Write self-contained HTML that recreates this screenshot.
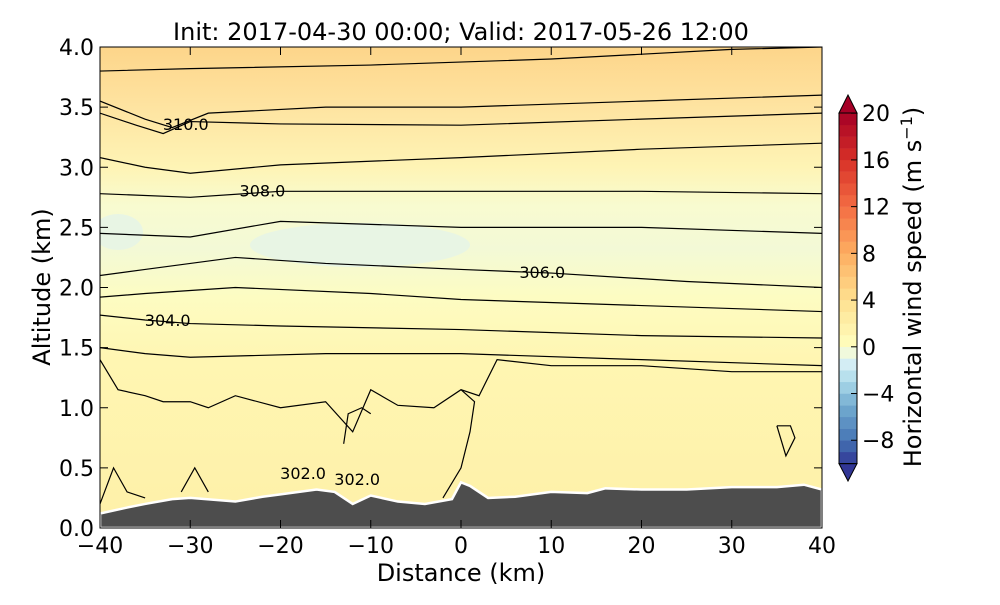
<!DOCTYPE html>
<html><head><meta charset="utf-8"><style>
body{margin:0;background:#fff;font-family:"Liberation Sans","DejaVu Sans",sans-serif}
svg text{font-family:"DejaVu Sans","Liberation Sans",sans-serif}
</style></head><body>
<svg id="chart" width="1000" height="600" viewBox="0 0 1000 600" xmlns="http://www.w3.org/2000/svg">
<defs>
<linearGradient id="bg" x1="0" y1="0" x2="0" y2="1">
<stop offset="0" stop-color="#fdd58a"/>
<stop offset="0.12" stop-color="#fee3a0"/>
<stop offset="0.25" stop-color="#fef4b5"/>
<stop offset="0.33" stop-color="#f8fbd0"/>
<stop offset="0.42" stop-color="#f3f9d6"/>
<stop offset="0.52" stop-color="#fdfcc2"/>
<stop offset="0.65" stop-color="#fff6b2"/>
<stop offset="1" stop-color="#fef0a8"/>
</linearGradient>
<clipPath id="plotclip"><rect x="100" y="47" width="722" height="481"/></clipPath>
</defs>
<text x="461" y="40" font-size="24" text-anchor="middle">Init: 2017-04-30 00:00; Valid: 2017-05-26 12:00</text>
<g id="plot" clip-path="url(#plotclip)">
<rect x="100" y="47" width="722" height="481" fill="url(#bg)"/>
<ellipse cx="360" cy="245" rx="110" ry="22" fill="#e8f5e4"/>
<ellipse cx="118" cy="232" rx="25" ry="18" fill="#e8f5e4"/>
<g id="contours"></g>
<g id="terrain"></g>
</g>
<rect x="100" y="47" width="722" height="481" fill="none" stroke="#000" stroke-width="1"/>
<g id="axes"></g>
<text x="461" y="581" font-size="24" text-anchor="middle">Distance (km)</text>
<text transform="translate(50,287) rotate(-90)" font-size="24" text-anchor="middle">Altitude (km)</text>
<g id="colorbar"></g>
<text transform="translate(921,287) rotate(-90)" font-size="24" text-anchor="middle">Horizontal wind speed (m s<tspan dy="-9" font-size="16">−1</tspan><tspan dy="9">)</tspan></text>
</svg>
<script>
const xTicks=[-40,-30,-20,-10,0,10,20,30,40];
const yTicks=[0,0.5,1.0,1.5,2.0,2.5,3.0,3.5,4.0];
const cbTicks=[-8,-4,0,4,8,12,16,20];
const cbLevels=[-10,-9,-8,-7,-6,-5,-4,-3,-2,-1,0,1,2,3,4,5,6,7,8,9,10,11,12,13,14,15,16,17,18,19];
const terrain=[[-40,0.12],[-37,0.17],[-35,0.2],[-32,0.24],[-30,0.25],[-25,0.22],[-22,0.26],[-20,0.28],[-16,0.32],[-14,0.3],[-12,0.2],[-10,0.27],[-7,0.22],[-4,0.2],[-1,0.24],[0,0.38],[1,0.35],[3,0.25],[6,0.26],[10,0.3],[14,0.29],[16,0.33],[20,0.32],[25,0.32],[30,0.34],[35,0.34],[38,0.36],[40,0.32]];
const contourLines=[
[[-40,3.8],[-30,3.82],[-10,3.85],[10,3.9],[30,3.98],[40,4.0]],
[[-40,3.55],[-35,3.4],[-32,3.33],[-28,3.45],[-15,3.5],[0,3.5],[20,3.55],[40,3.6]],
[[-40,3.45],[-36,3.35],[-33,3.28],[-30,3.38],[-20,3.36],[0,3.35],[20,3.4],[40,3.45]],
[[-40,3.08],[-35,3.0],[-30,2.95],[-20,3.02],[0,3.08],[20,3.15],[40,3.2]],
[[-40,2.78],[-30,2.75],[-20,2.8],[0,2.8],[20,2.8],[40,2.78]],
[[-40,2.45],[-30,2.42],[-20,2.55],[0,2.5],[20,2.5],[40,2.45]],
[[-40,2.1],[-35,2.15],[-25,2.25],[-15,2.2],[0,2.15],[10,2.12],[25,2.05],[40,2.0]],
[[-40,1.92],[-35,1.95],[-25,2.0],[-10,1.95],[0,1.9],[20,1.85],[40,1.8]],
[[-40,1.77],[-35,1.73],[-30,1.7],[-20,1.68],[0,1.65],[20,1.6],[40,1.58]],
[[-40,1.5],[-35,1.45],[-30,1.42],[-15,1.45],[0,1.45],[20,1.4],[40,1.35]],
[[-40,1.4],[-38,1.15],[-35,1.1],[-33,1.05],[-30,1.05],[-28,1.0],[-25,1.1],[-20,1.0],[-15,1.05],[-12,0.8],[-10,1.15],[-7,1.02],[-3,1.0],[0,1.15],[2,1.1],[4,1.4],[10,1.35],[20,1.35],[30,1.3],[40,1.3]],
[[-40,0.2],[-38.5,0.5],[-37,0.3],[-35,0.25]],
[[-31,0.3],[-29.5,0.5],[-28,0.3]],
[[-13,0.7],[-12.5,0.95],[-11,1.0],[-10,0.95]],
[[-2,0.25],[0,0.5],[1,0.8],[1.5,1.05],[0,1.15]],
[[35,0.85],[36,0.6],[37,0.75],[36.5,0.85],[35,0.85]]
];
const contourLabels=[["310.0",-30.5,3.35],["308.0",-22,2.8],["306.0",9,2.12],["304.0",-32.5,1.72],["302.0",-17.5,0.45],["302.0",-11.5,0.4]];
const X=d=>100+(d+40)*9.025, Y=a=>528-a*120.25;
const NS="http://www.w3.org/2000/svg";
function mk(t,attrs,parent){const e=document.createElementNS(NS,t);for(const k in attrs)e.setAttribute(k,attrs[k]);parent.appendChild(e);return e;}
const cg=document.getElementById('contours');
contourLines.forEach((ln,i)=>{
const p=mk('polyline',{points:ln.map(q=>X(q[0])+','+Y(q[1])).join(' '),fill:'none',stroke:'#000','stroke-width':1.2},cg);


});
contourLabels.forEach(l=>{
const t=mk('text',{x:X(l[1]),y:Y(l[2])+5,'font-size':16,'text-anchor':'middle'},cg);
t.textContent=l[0];


});
const tg=document.getElementById('terrain');
const tp=terrain.map(q=>X(q[0])+','+Y(q[1])).join(' ');
const tpoly=mk('polygon',{points:X(-40)+','+Y(0)+' '+tp+' '+X(40)+','+Y(0),fill:'#4d4d4d',stroke:'#fff','stroke-width':2.5},tg);


const ag=document.getElementById('axes');
xTicks.forEach(v=>{
mk('line',{x1:X(v),x2:X(v),y1:528,y2:520,stroke:'#000'},ag);
mk('line',{x1:X(v),x2:X(v),y1:47,y2:55,stroke:'#000'},ag);
const t=mk('text',{x:X(v),y:553,'font-size':22,'text-anchor':'middle'},ag);
t.textContent=(v<0?'−'+(-v):v);


});
yTicks.forEach(v=>{
mk('line',{x1:100,x2:108,y1:Y(v),y2:Y(v),stroke:'#000'},ag);
mk('line',{x1:822,x2:814,y1:Y(v),y2:Y(v),stroke:'#000'},ag);
const t=mk('text',{x:94,y:Y(v)+8,'font-size':22,'text-anchor':'end'},ag);
t.textContent=v.toFixed(1);


});
const stops=[[-10,[49,54,149]],[-8,[69,117,180]],[-5,[116,173,209]],[-3,[171,217,233]],[-1,[224,243,248]],[0,[255,255,191]],[4,[254,224,144]],[8,[253,174,97]],[12,[244,109,67]],[16,[215,48,39]],[20,[165,0,38]]];
function col(v){for(let i=0;i<stops.length-1;i++){const a=stops[i],b=stops[i+1];if(v<=b[0]){const f=(v-a[0])/(b[0]-a[0]);return 'rgb('+a[1].map((c,j)=>Math.round(c+(b[1][j]-c)*f)).join(',')+')';}}return 'rgb(165,0,38)';}
const cb=document.getElementById('colorbar');
const CY=v=>463.6-(v+10)*11.68;
cbLevels.forEach(v=>{
const r=mk('rect',{x:839,y:CY(v+1),width:18,height:11.9,fill:col(v+0.5)},cb);


});
mk('polygon',{points:'839,113 848,95 857,113',fill:'#a50026',stroke:'#000','stroke-width':1},cb);
mk('polygon',{points:'839,463.6 848,481 857,463.6',fill:'#313695',stroke:'#000','stroke-width':1},cb);
mk('rect',{x:839,y:113,width:18,height:350.6,fill:'none',stroke:'#000','stroke-width':1},cb);
cbTicks.forEach(v=>{
mk('line',{x1:851,x2:857,y1:CY(v),y2:CY(v),stroke:'#000'},cb);
const t=mk('text',{x:862,y:CY(v)+8,'font-size':22},cb);
t.textContent=(v<0?'−'+(-v):v);


});
</script>
</body></html>
